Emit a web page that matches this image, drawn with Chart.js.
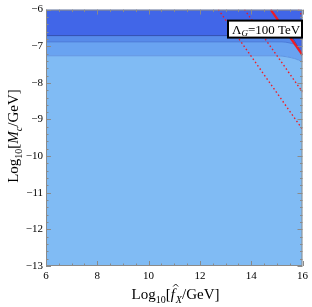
<!DOCTYPE html>
<html>
<head>
<meta charset="utf-8">
<script src="https://cdn.jsdelivr.net/npm/chart.js@4.4.1/dist/chart.umd.min.js"></script>
<style>
html, body { margin: 0; padding: 0; background: #fff; }
#wrap { width: 312px; height: 307px; }
</style>
</head>
<body>
<div id="wrap"><canvas id="myChart" width="312" height="307"></canvas></div>
<script>
// Region boundaries: x = log10(f_X/GeV), y = log10(M_c/GeV)
let darkX = [6, 15.47, 16];
let darkY = [-6.71, -6.71, -7.24];
let band2X = [6, 15.2, 15.5, 15.8, 16];
let band2Y = [-6.88, -6.88, -6.91, -6.96, -7.0];
let band3X = [6, 15.0, 15.4, 15.7, 16];
let band3Y = [-7.26, -7.26, -7.29, -7.34, -7.42];

// Lambda_G contours (solid = 100 TeV, dotted = others)
let solidX = [14.76, 16];
let solidY = [-6, -7.24];
let dot1X = [12.72, 16];
let dot1Y = [-6, -9.27];
let dot2X = [13.74, 16];
let dot2Y = [-6, -8.25];
let dot3X = [15.84, 16];
let dot3Y = [-6, -6.18];

// Tick labels
let xTicks = [6, 8, 10, 12, 14, 16];
let yTicks = [-6, -7, -8, -9, -10, -11, -12, -13];

let serif = "'Liberation Serif', 'DejaVu Serif', serif";

function pts(xs, ys) {
    return xs.map(function(x, i) { return {x: x, y: ys[i]}; });
}

function region(xs, ys, fillTo, color, line, order) {
    return {
        data: pts(xs, ys),
        showLine: true,
        pointRadius: 0,
        borderColor: line,
        borderWidth: line === 'transparent' ? 0 : 1,
        backgroundColor: color,
        fill: fillTo,
        cubicInterpolationMode: 'monotone',
        order: order
    };
}

function contour(xs, ys, width, dash) {
    return {
        data: pts(xs, ys),
        showLine: true,
        pointRadius: 0,
        borderColor: '#ee1c25',
        borderWidth: width,
        borderDash: dash,
        fill: false,
        order: 0
    };
}

// Frame, inward ticks, label box and axis titles
const decorPlugin = {
    id: 'decor',
    afterDatasetsDraw(chart) {
        const ctx = chart.ctx;
        const a = chart.chartArea;
        const xs = chart.scales.x, ys = chart.scales.y;
        ctx.save();
        ctx.strokeStyle = '#8a8a8a';
        ctx.lineWidth = 1;
        ctx.strokeRect(a.left + 0.5, a.top + 0.5, a.right - a.left - 1, a.bottom - a.top - 1);
        ctx.beginPath();
        for (let v = 6; v <= 16.001; v += 0.5) {
            let px = Math.round(xs.getPixelForValue(v)) + 0.5;
            let len = (v % 2 === 0) ? 5 : 2.5;
            ctx.moveTo(px, a.bottom); ctx.lineTo(px, a.bottom - len);
            ctx.moveTo(px, a.top); ctx.lineTo(px, a.top + len);
        }
        for (let v = -13; v <= -5.999; v += 0.2) {
            let py = Math.round(ys.getPixelForValue(v)) + 0.5;
            let major = Math.abs(v - Math.round(v)) < 0.01;
            let len = major ? 5 : 2.5;
            ctx.moveTo(a.left, py); ctx.lineTo(a.left + len, py);
            ctx.moveTo(a.right, py); ctx.lineTo(a.right - len, py);
        }
        ctx.stroke();

        // Lambda_G label box
        let bx = a.left + 182, by = a.top + 11, bw = 74, bh = 17;
        ctx.fillStyle = '#fff';
        ctx.fillRect(bx, by, bw, bh);
        ctx.strokeStyle = '#000';
        ctx.lineWidth = 2;
        ctx.strokeRect(bx, by, bw, bh);
        ctx.fillStyle = '#000';
        ctx.textBaseline = 'alphabetic';
        ctx.textAlign = 'left';
        let tx = bx + 4, ty = by + 13;
        ctx.font = '13px ' + serif;
        ctx.fillText('\u039B', tx, ty);
        tx += ctx.measureText('\u039B').width;
        ctx.font = 'italic 9px ' + serif;
        ctx.fillText('G', tx, ty + 2);
        tx += ctx.measureText('G').width;
        ctx.font = '13px ' + serif;
        ctx.fillText('=100 TeV', tx, ty);
        ctx.restore();
    },
    afterDraw(chart) {
        const ctx = chart.ctx;
        ctx.save();
        ctx.fillStyle = '#000';
        ctx.textBaseline = 'alphabetic';
        ctx.textAlign = 'left';
        // x title pieces
        let xParts = [
            ['Log', '15px ' + serif, 0],
            ['10', '10px ' + serif, 4],
            ['[', '15px ' + serif, 0],
            ['f', 'italic 15px ' + serif, 0],
            ['X', 'italic 10px ' + serif, 4],
            ['/GeV]', '15px ' + serif, 0]
        ];
        drawParts(ctx, xParts, 175, 299, true);
        // y title pieces, rotated
        let yParts = [
            ['Log', '15px ' + serif, 0],
            ['10', '10px ' + serif, 4],
            ['[', '15px ' + serif, 0],
            ['M', 'italic 15px ' + serif, 0],
            ['c', 'italic 10px ' + serif, 4],
            ['/GeV]', '15px ' + serif, 0]
        ];
        ctx.translate(18, 136);
        ctx.rotate(-Math.PI / 2);
        drawParts(ctx, yParts, 0, 0, false);
        ctx.restore();
    }
};

function drawParts(ctx, parts, cx, base, hat) {
    let total = 0;
    parts.forEach(function(p) { ctx.font = p[1]; total += ctx.measureText(p[0]).width; });
    let x = cx - total / 2;
    parts.forEach(function(p) {
        ctx.font = p[1];
        ctx.fillText(p[0], x, base + p[2]);
        if (hat && p[0] === 'f') {
            // circumflex over the f
            ctx.save();
            ctx.strokeStyle = '#000';
            ctx.lineWidth = 0.9;
            ctx.beginPath();
            ctx.moveTo(x + 2.5, base - 12.5);
            ctx.lineTo(x + 5, base - 15);
            ctx.lineTo(x + 7.5, base - 12.5);
            ctx.stroke();
            ctx.restore();
        }
        x += ctx.measureText(p[0]).width + (p[0] === 'f' ? 1 : 0);
    });
}

let ctx = document.getElementById('myChart').getContext('2d');
let myChart = new Chart(ctx, {
    type: 'scatter',
    data: {
        datasets: [
            contour(solidX, solidY, 2.2, []),
            contour(dot1X, dot1Y, 1.4, [1.5, 2.5]),
            contour(dot2X, dot2Y, 1.4, [1.5, 2.5]),
            contour(dot3X, dot3Y, 1.4, [1.5, 2.5]),
            region(darkX, darkY, 'end', '#4166e8', '#3450b0', 1),
            region(band2X, band2Y, 'end', '#578bea', '#4c7bd8', 2),
            region(band3X, band3Y, 'end', '#69a3f1', '#5f95e2', 3),
            region(band3X, band3Y, 'start', '#80bbf4', 'transparent', 4)
        ]
    },
    options: {
        responsive: false,
        animation: false,
        devicePixelRatio: 1,
        layout: { padding: { left: 6, top: 6, right: 7, bottom: 0 } },
        plugins: { legend: { display: false }, tooltip: { enabled: false } },
        scales: {
            x: {
                type: 'linear', min: 6, max: 16,
                afterBuildTicks: function(s) { s.ticks = xTicks.map(function(v) { return {value: v}; }); },
                afterFit: function(s) { s.height = 41; },
                grid: { display: false, drawTicks: false },
                border: { display: false },
                ticks: { color: '#000', padding: 4, maxRotation: 0, font: { family: serif, size: 11 } }
            },
            y: {
                type: 'linear', min: -13, max: -6,
                afterBuildTicks: function(s) { s.ticks = yTicks.map(function(v) { return {value: v}; }); },
                afterFit: function(s) { s.width = 40; },
                grid: { display: false, drawTicks: false },
                border: { display: false },
                ticks: {
                    color: '#000', padding: 3, font: { family: serif, size: 11 },
                    callback: function(v) { return '\u2212' + Math.abs(v); }
                }
            }
        }
    },
    plugins: [decorPlugin]
});
</script>
</body>
</html>
